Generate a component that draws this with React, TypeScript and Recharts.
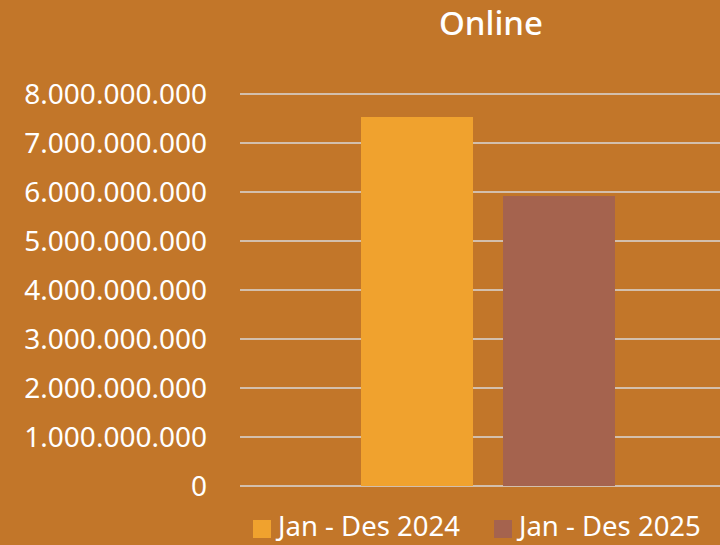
import { BarChart, Bar, XAxis, YAxis, CartesianGrid, Legend } from 'recharts';

const categories = ['Online'];
const values2024 = [7530000000];
const values2025 = [5920000000];
const yTicks = [0, 1e9, 2e9, 3e9, 4e9, 5e9, 6e9, 7e9, 8e9];

const SERIES = [
  { key: 'y2024', label: 'Jan - Des 2024', color: '#F0A22E' },
  { key: 'y2025', label: 'Jan - Des 2025', color: '#A5634E' },
];

const BG = '#C27629';
const FONT = '"Noto Sans", sans-serif';

const data = categories.map((name, i) => ({
  name,
  y2024: values2024[i],
  y2025: values2025[i],
}));

// thousands separated with dots, like the Indonesian locale
const fmt = (v: number) => String(Math.round(v)).replace(/\B(?=(\d{3})+(?!\d))/g, '.');

function LegendRow() {
  return (
    <div
      style={{
        position: 'absolute',
        left: 253,
        top: 512,
        height: 27,
        display: 'flex',
        alignItems: 'center',
        fontFamily: FONT,
        fontSize: 27.5,
        lineHeight: '27px',
        color: '#fff',
        whiteSpace: 'nowrap',
      }}
    >
      {SERIES.map((s, i) => (
        <div key={s.key} style={{ display: 'flex', alignItems: 'center', marginRight: i === 0 ? 34 : 0 }}>
          <span style={{ width: 18, height: 18, background: s.color, display: 'inline-block', marginRight: 7, marginTop: 6 }} />
          <span>{s.label}</span>
        </div>
      ))}
    </div>
  );
}

export default function App() {
  return (
    <div style={{ position: 'absolute', left: 0, top: 0, width: 720, height: 545, background: BG, overflow: 'hidden' }}>
      <div
        style={{
          position: 'absolute',
          left: 0,
          top: 0,
          width: 982,
          textAlign: 'center',
          fontFamily: FONT,
          fontWeight: 500,
          fontSize: 33,
          color: '#fff',
          lineHeight: '46px',
        }}
      >
        Online
      </div>
      <BarChart
        width={720}
        height={545}
        data={data}
        margin={{ top: 94, right: 0, bottom: 59, left: 0 }}
        barSize={112}
        barGap={30}
      >
        <CartesianGrid vertical={false} stroke="#D9D9D9" strokeWidth={1.5} />
        <XAxis dataKey="name" hide padding={{ left: 16, right: 0 }} />
        <YAxis
          width={240}
          domain={[0, 8e9]}
          ticks={yTicks}
          interval={0}
          axisLine={false}
          tickLine={false}
          tickMargin={27}
          tickFormatter={fmt}
          tick={{ fill: '#fff', fontSize: 28, fontFamily: FONT }}
        />
        {SERIES.map((s) => (
          <Bar key={s.key} dataKey={s.key} name={s.label} fill={s.color} isAnimationActive={false} />
        ))}
        <Legend content={() => null} />
      </BarChart>
      <LegendRow />
    </div>
  );
}
